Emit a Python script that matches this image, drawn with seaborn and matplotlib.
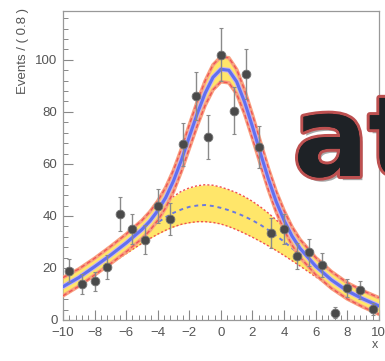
import matplotlib
matplotlib.use("Agg")
import matplotlib.pyplot as plt
import matplotlib.patheffects as pe
from matplotlib.ticker import MultipleLocator
import seaborn as sns

# data points (bin width 0.8)
bin_x = [-9.6, -8.8, -8.0, -7.2, -6.4, -5.6, -4.8, -4.0, -3.2, -2.4, -1.6, -0.8, 0.0,
         0.8, 1.6, 2.4, 3.2, 4.0, 4.8, 5.6, 6.4, 7.2, 8.0, 8.8, 9.6]
events = [19, 13.8, 14.8, 20.4, 40.8, 35, 30.8, 43.8, 38.8, 67.5, 86, 70.4, 102,
          80.5, 94.5, 66.5, 33.5, 35, 24.5, 26, 21, 2.8, 12.2, 11.5, 4.2]
err = [4.4, 3.7, 3.8, 4.5, 6.4, 5.9, 5.6, 6.6, 6.2, 8.2, 9.3, 8.4, 10.1,
       9.0, 9.7, 8.2, 5.8, 5.9, 5.0, 5.1, 4.6, 2.2, 3.5, 3.4, 2.4]

# curves
curve_x = [-10, -9, -8, -7, -6, -5, -4.5, -4, -3.5, -3, -2.5, -2, -1.5, -1, -0.5, 0,
           0.5, 1, 1.5, 2, 2.5, 3, 3.5, 4, 4.5, 5, 6, 7, 8, 9, 10]
total = [12.8, 16.3, 20.5, 24.9, 29.6, 34.8, 38, 42, 47, 53.5, 61.5, 70.5, 79.3, 87.2, 93.3, 96.4,
         96, 91.6, 83.8, 74.3, 64.2, 54.3, 45.5, 38.3, 32.3, 27.6, 20.7, 15.4, 11.2, 8.1, 5.4]
total_hi = [16.3, 19.6, 23.7, 28.2, 33, 38.3, 41.6, 45.7, 50.9, 57.6, 65.8, 75, 83.9, 91.9, 98.1, 101.2,
            100.8, 96.3, 88.4, 78.8, 68.5, 58.4, 49.4, 42, 35.8, 31, 24, 18.6, 14.3, 11.2, 8.6]
total_lo = [9.3, 13, 17.3, 21.6, 26.2, 31.3, 34.4, 38.3, 43.1, 49.4, 57.2, 66, 74.7, 82.5, 88.5, 91.6,
            91.2, 86.9, 79.2, 69.8, 59.9, 50.2, 41.6, 34.6, 28.8, 24.2, 17.4, 12.2, 8.1, 5, 2.2]
bkg = [12.5, 16, 20, 24.5, 29, 33.5, 35.6, 37.5, 39.5, 41.2, 42.5, 43.5, 44, 44.2, 43.8, 43.1,
       42.2, 41.1, 39.8, 38.3, 36.6, 34.6, 32.4, 30.1, 27.6, 25.1, 20.1, 15.3, 11.2, 8, 5.3]
bkg_hi = [15.5, 19, 23, 27.5, 32.5, 37.5, 40, 42.5, 45, 47.5, 49.5, 50.8, 51.6, 52, 51.8, 51.1,
          50.1, 48.9, 47.4, 45.6, 43.5, 41.1, 38.5, 35.6, 32.6, 29.6, 23.6, 18.1, 13.6, 10.1, 7]
bkg_lo = [9.5, 13, 17, 21.5, 25.5, 29.5, 31.3, 33, 34.5, 35.8, 36.8, 37.4, 37.8, 37.8, 37.5, 36.9,
          35.9, 34.7, 33.3, 31.8, 30.2, 28.5, 26.7, 24.8, 22.8, 20.8, 16.6, 12.6, 9, 6.2, 3.8]

sns.set_style("ticks")
plt.rcParams['font.family'] = ['Liberation Sans', 'DejaVu Sans']

fig = plt.figure(figsize=(3.85, 3.61), dpi=100)
ax = fig.add_axes([0.1636, 0.1136, 0.8204, 0.856])

yellow = "#ffe66a"
# background component band
ax.fill_between(curve_x, bkg_lo, bkg_hi, color=yellow, lw=0, zorder=1)
sns.lineplot(x=curve_x, y=bkg_hi, ax=ax, color="#f05050", lw=1.0, ls=(0, (1.5, 1.5)), zorder=2)
sns.lineplot(x=curve_x, y=bkg_lo, ax=ax, color="#f05050", lw=1.0, ls=(0, (1.5, 1.5)), zorder=2)
sns.lineplot(x=curve_x, y=bkg, ax=ax, color="#6a78e0", lw=1.4, ls=(0, (2, 2)), zorder=3)

# total fit band
ax.fill_between(curve_x, total_lo, total_hi, color=yellow, lw=0, zorder=4)
for edge in (total_hi, total_lo):
    sns.lineplot(x=curve_x, y=edge, ax=ax, color="#f8a080", lw=2.6, zorder=5)
    sns.lineplot(x=curve_x, y=edge, ax=ax, color="#ee5555", lw=1.0, ls=(0, (3, 2)), zorder=5)
sns.lineplot(x=curve_x, y=total, ax=ax, color="#c8b0f0", lw=3.6, zorder=6)
sns.lineplot(x=curve_x, y=total, ax=ax, color="#6070f0", lw=2.2, zorder=6)

# data
ax.errorbar(bin_x, events, yerr=err, fmt="none", ecolor="#8a8a8a", elinewidth=1.0,
            capsize=1.5, capthick=0.8, zorder=7)
sns.scatterplot(x=bin_x, y=events, ax=ax, color="#4a4a4a", s=40, edgecolor="#777777",
                linewidth=0.6, zorder=8)

ax.set_xlim(-10, 10)
ax.set_ylim(0, 118.8)
ax.xaxis.set_major_locator(MultipleLocator(2))
ax.xaxis.set_minor_locator(MultipleLocator(0.4))
ax.yaxis.set_major_locator(MultipleLocator(20))
ax.yaxis.set_minor_locator(MultipleLocator(4))
ax.tick_params(which="both", direction="in", colors="#888888", labelcolor="#555555",
               labelsize=9.5, top=False, right=False)
ax.tick_params(which="major", length=7, width=0.8)
ax.tick_params(which="minor", length=3.5, width=0.7)
ax.tick_params(axis="x", pad=5)
ax.tick_params(axis="y", pad=4)
for s in ax.spines.values():
    s.set_color("#999999")
    s.set_linewidth(0.9)

ax.set_xlabel("")
ax.set_ylabel("")
fig.text(0.974, 0.045, "x", fontsize=9, color="#555555", ha="center", va="center")
fig.text(0.06, 0.978, "Events / ( 0.8 )", fontsize=9.5, color="#555555", rotation=90,
         ha="center", va="top")

# decorative overlay text
fig.text(0.762, 0.5125, "at", fontsize=80, fontweight="bold", color="#1e2226",
         family=["DejaVu Sans"], ha="left", va="baseline", zorder=20,
         path_effects=[pe.SimplePatchShadow(offset=(2, -3), alpha=0.35),
                       pe.withStroke(linewidth=4.5, foreground="#bd5050"),
                       pe.Normal()])

fig.savefig("out.png", dpi=100)
